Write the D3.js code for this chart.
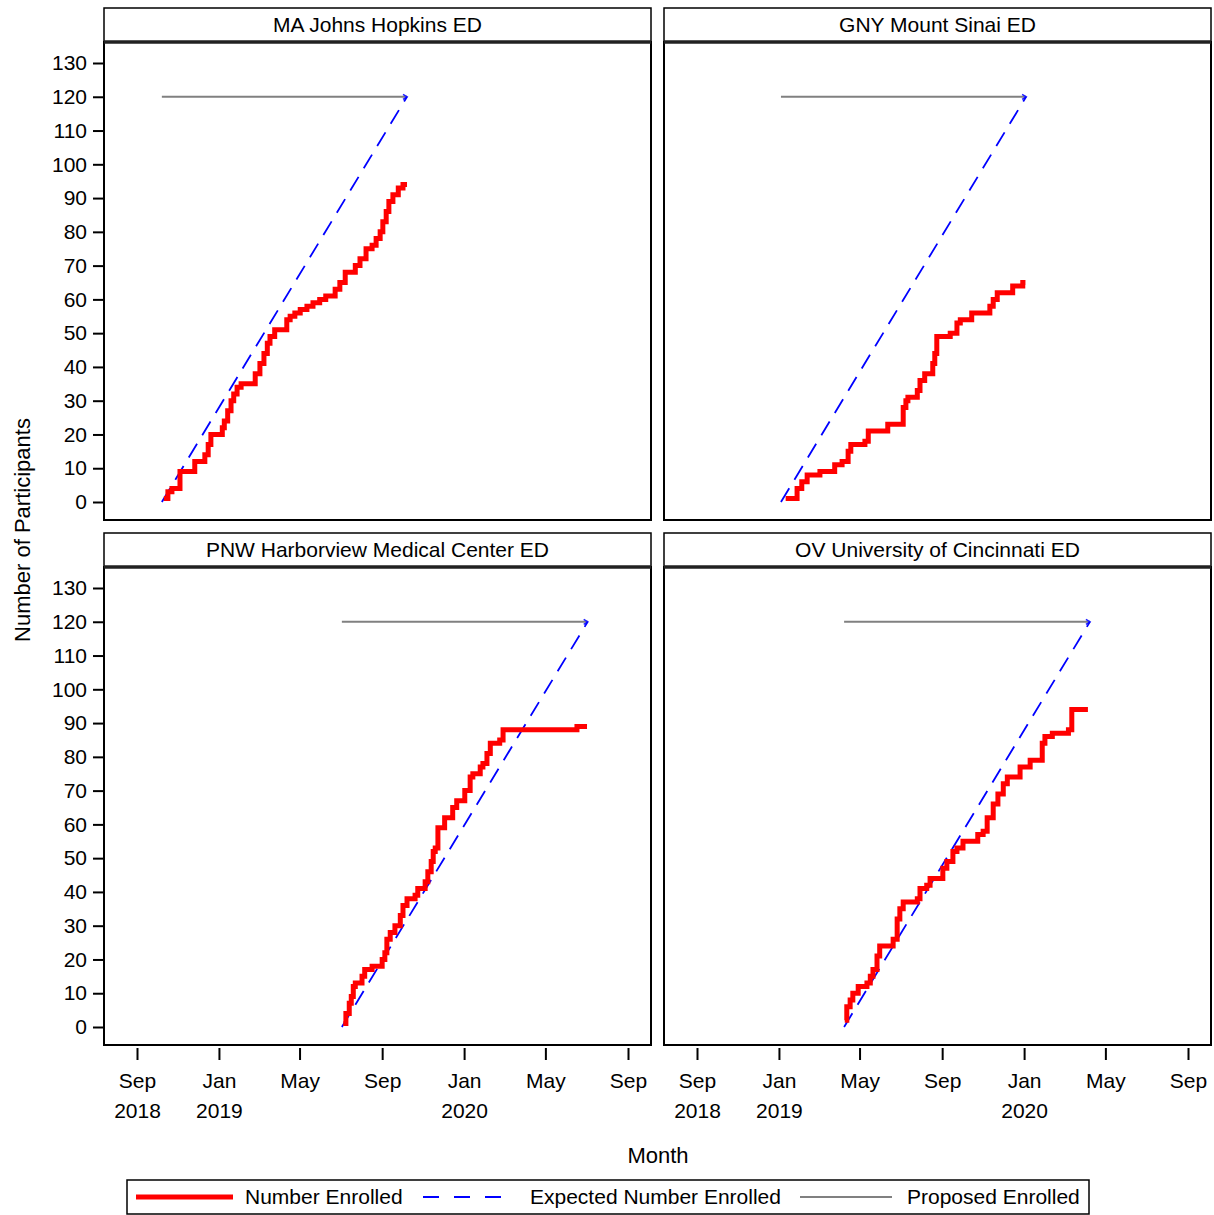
<!DOCTYPE html>
<html>
<head>
<meta charset="utf-8">
<script src="https://cdn.jsdelivr.net/npm/d3@7"></script>
<style>
body { margin: 0; background: #fff; }
text { font-family: "Liberation Sans", Arial, sans-serif; fill: #000; }
</style>
</head>
<body>
<svg id="chart"></svg>
<script>
// data
const sites = ['MA Johns Hopkins ED', 'GNY Mount Sinai ED', 'PNW Harborview Medical Center ED', 'OV University of Cincinnati ED']
const proposedTarget = 120
const planStart = ['2018-10-08', '2019-01-04', '2019-07-03', '2019-04-08']
const planEnd = ['2019-10-08', '2020-01-04', '2020-07-03', '2020-04-08']

const jhDates = ['2018-10-11','2018-10-17','2018-10-23','2018-11-04','2018-11-26','2018-12-11','2018-12-16','2018-12-20',
  '2019-01-06','2019-01-09','2019-01-14','2019-01-19','2019-01-23','2019-01-28','2019-02-03','2019-02-24','2019-03-03',
  '2019-03-09','2019-03-14','2019-03-18','2019-03-25','2019-04-12','2019-04-17','2019-04-24','2019-05-02','2019-05-12',
  '2019-05-21','2019-05-31','2019-06-09','2019-06-23','2019-06-30','2019-07-08','2019-07-23','2019-07-30','2019-08-08',
  '2019-08-17','2019-08-23','2019-08-29','2019-09-02','2019-09-07','2019-09-11','2019-09-17','2019-09-25','2019-10-02','2019-10-08']
const jhCounts = [1,3,4,9,12,14,17,20,22,24,27,30,32,34,35,38,41,44,47,49,51,54,55,56,57,58,59,60,61,63,65,68,70,72,75,76,78,80,83,86,89,91,93,94,94]

const msDates = ['2019-01-11','2019-01-28','2019-02-04','2019-02-12','2019-03-03','2019-03-25','2019-04-05','2019-04-14',
  '2019-04-18','2019-05-09','2019-05-14','2019-06-12','2019-07-05','2019-07-09','2019-07-12','2019-07-26','2019-07-30',
  '2019-08-06','2019-08-18','2019-08-21','2019-08-24','2019-09-13','2019-09-23','2019-09-28','2019-10-15','2019-11-11',
  '2019-11-16','2019-11-22','2019-12-15','2019-12-30','2020-01-03']
const msCounts = [1,4,6,8,9,11,12,15,17,18,21,23,28,30,31,33,36,38,41,44,49,50,53,54,56,58,60,62,64,65,65]

const hvDates = ['2019-07-05','2019-07-09','2019-07-14','2019-07-17','2019-07-20','2019-07-23','2019-08-02','2019-08-06',
  '2019-08-17','2019-09-01','2019-09-05','2019-09-08','2019-09-13','2019-09-20','2019-09-28','2019-10-02','2019-10-08',
  '2019-10-20','2019-10-24','2019-11-04','2019-11-08','2019-11-13','2019-11-16','2019-11-19','2019-11-23','2019-12-03',
  '2019-12-15','2019-12-21','2020-01-02','2020-01-10','2020-01-14','2020-01-25','2020-01-29','2020-02-04','2020-02-09',
  '2020-02-23','2020-02-28','2020-06-17','2020-07-02']
const hvCounts = [1,4,7,9,12,13,15,17,18,20,22,26,28,30,33,36,38,39,41,43,46,49,52,53,59,62,65,67,70,74,75,77,78,81,84,85,88,89,89]

const cnDates = ['2019-04-09','2019-04-12','2019-04-17','2019-04-21','2019-04-29','2019-05-12','2019-05-17','2019-05-21',
  '2019-05-27','2019-05-31','2019-06-20','2019-06-26','2019-06-30','2019-07-05','2019-07-26','2019-07-30','2019-08-09',
  '2019-08-14','2019-09-02','2019-09-08','2019-09-17','2019-09-23','2019-10-02','2019-10-24','2019-11-01','2019-11-07',
  '2019-11-16','2019-11-23','2019-12-01','2019-12-07','2019-12-26','2020-01-10','2020-01-28','2020-02-01','2020-02-12',
  '2020-03-07','2020-03-12','2020-04-05']
const cnCounts = [2,6,8,10,12,13,15,17,21,24,26,32,35,37,38,41,42,44,47,49,52,53,55,57,58,62,66,69,72,74,77,79,84,86,87,88,94,94]

const enrolledDates = [jhDates, msDates, hvDates, cnDates]
const enrolledCounts = [jhCounts, msCounts, hvCounts, cnCounts]

const yTicks = [0,10,20,30,40,50,60,70,80,90,100,110,120,130]
const xTicks = ['2018-09-01','2019-01-01','2019-05-01','2019-09-01','2020-01-01','2020-05-01','2020-09-01']
const xTickMonths = ['Sep','Jan','May','Sep','Jan','May','Sep']
const xTickYears = ['2018','2019','','','2020','','']
const legendLabels = ['Number Enrolled', 'Expected Number Enrolled', 'Proposed Enrolled']

// layout
const width = 1214
const height = 1215
const colX = [104, 664]
const rowY = [42, 567]
const panelW = 547
const panelH = 478
const stripH = 34

const parse = d3.timeParse('%Y-%m-%d')

let svg = d3.select('#chart').attr('width', width).attr('height', height)

let xScale = d3.scaleTime()
    .domain([parse('2018-09-01'), parse('2020-09-01')])
    .range([33, 524])

let yScale = d3.scaleLinear()
    .domain([0, 130])
    .range([460, 21])

function drawPanel(i) {
    const col = i % 2
    const row = Math.floor(i / 2)
    const g = svg.append('g').attr('transform', 'translate(' + colX[col] + ',' + rowY[row] + ')')

    // header strip
    g.append('rect')
        .attr('x', 0).attr('y', -stripH)
        .attr('width', panelW).attr('height', stripH)
        .attr('fill', '#fff').attr('stroke', '#000').attr('stroke-width', 1.5)
    g.append('text')
        .attr('x', panelW / 2).attr('y', -10)
        .attr('text-anchor', 'middle')
        .style('font-size', '21px')
        .text(sites[i])

    // proposed
    const s = parse(planStart[i])
    const e = parse(planEnd[i])
    g.append('line')
        .attr('x1', xScale(s)).attr('x2', xScale(e))
        .attr('y1', yScale(proposedTarget)).attr('y2', yScale(proposedTarget))
        .attr('stroke', '#808080').attr('stroke-width', 2)
    g.append('path')
        .attr('d', 'M-4,-2.5L0,0L-4,2.5')
        .attr('transform', 'translate(' + xScale(e) + ',' + yScale(proposedTarget) + ')')
        .attr('fill', 'none').attr('stroke', '#2020ff').attr('stroke-width', 1.5)

    // expected
    g.append('line')
        .attr('x1', xScale(s)).attr('x2', xScale(e))
        .attr('y1', yScale(0)).attr('y2', yScale(proposedTarget))
        .attr('stroke', '#0000ff').attr('stroke-width', 1.8)
        .attr('stroke-dasharray', '16,10')

    // enrolled
    const pts = enrolledDates[i].map((d, k) => [parse(d), enrolledCounts[i][k]])
    const line = d3.line()
        .x(d => xScale(d[0]))
        .y(d => yScale(d[1]))
        .curve(d3.curveStepAfter)
    g.append('path')
        .attr('d', line(pts))
        .attr('fill', 'none')
        .attr('stroke', '#ff0000')
        .attr('stroke-width', 5)

    // frame
    g.append('rect')
        .attr('width', panelW).attr('height', panelH)
        .attr('fill', 'none').attr('stroke', '#000').attr('stroke-width', 2)
    g.append('line')
        .attr('x1', 0).attr('x2', panelW).attr('y1', 0).attr('y2', 0)
        .attr('stroke', '#222').attr('stroke-width', 3.5)

    if (col === 0) {
        let yAxis = d3.axisLeft(yScale).tickValues(yTicks).tickSize(10).tickPadding(6)
        let ya = g.append('g').attr('transform', 'translate(-1,0)').call(yAxis)
        ya.select('.domain').remove()
        ya.selectAll('line').attr('stroke', '#000').attr('stroke-width', 2)
        ya.selectAll('text').style('font-size', '21px').attr('font-family', null)
    }

    if (row === 1) {
        let xAxis = d3.axisBottom(xScale)
            .tickValues(xTicks.map(parse))
            .tickSize(12)
            .tickFormat((d, k) => xTickMonths[k])
        let xa = g.append('g').attr('transform', 'translate(0,' + (panelH + 3) + ')').call(xAxis)
        xa.select('.domain').remove()
        xa.selectAll('line').attr('stroke', '#000').attr('stroke-width', 2)
        xa.selectAll('text')
            .style('font-size', '21px').attr('font-family', null)
            .attr('y', 40).attr('dy', 0)
            .each(function (d, k) {
                if (xTickYears[k]) {
                    d3.select(this).append('tspan')
                        .attr('x', 0).attr('dy', 30)
                        .text(xTickYears[k])
                }
            })
    }
}

function drawTitles() {
    svg.append('text')
        .attr('transform', 'translate(30,530) rotate(-90)')
        .attr('text-anchor', 'middle')
        .style('font-size', '22px')
        .text('Number of Participants')
    svg.append('text')
        .attr('x', 658).attr('y', 1163)
        .attr('text-anchor', 'middle')
        .style('font-size', '22px')
        .text('Month')
}

function drawLegend() {
    const lg = svg.append('g').attr('transform', 'translate(127,1180)')
    lg.append('rect')
        .attr('width', 962).attr('height', 34)
        .attr('fill', '#fff').attr('stroke', '#000').attr('stroke-width', 1.5)
    const items = [
        {x1: 9, x2: 106, tx: 118, color: '#ff0000', w: 5, dash: null},
        {x1: 296, x2: 380, tx: 403, color: '#0000ff', w: 1.8, dash: '16,15'},
        {x1: 673, x2: 765, tx: 780, color: '#808080', w: 2, dash: null}
    ]
    items.forEach((it, k) => {
        lg.append('line')
            .attr('x1', it.x1).attr('x2', it.x2).attr('y1', 17).attr('y2', 17)
            .attr('stroke', it.color).attr('stroke-width', it.w)
            .attr('stroke-dasharray', it.dash)
        lg.append('text')
            .attr('x', it.tx).attr('y', 24)
            .style('font-size', '21px')
            .text(legendLabels[k])
    })
}

function main() {
    for (let i = 0; i < sites.length; i++) drawPanel(i)
    drawTitles()
    drawLegend()
}

main()
</script>
</body>
</html>
